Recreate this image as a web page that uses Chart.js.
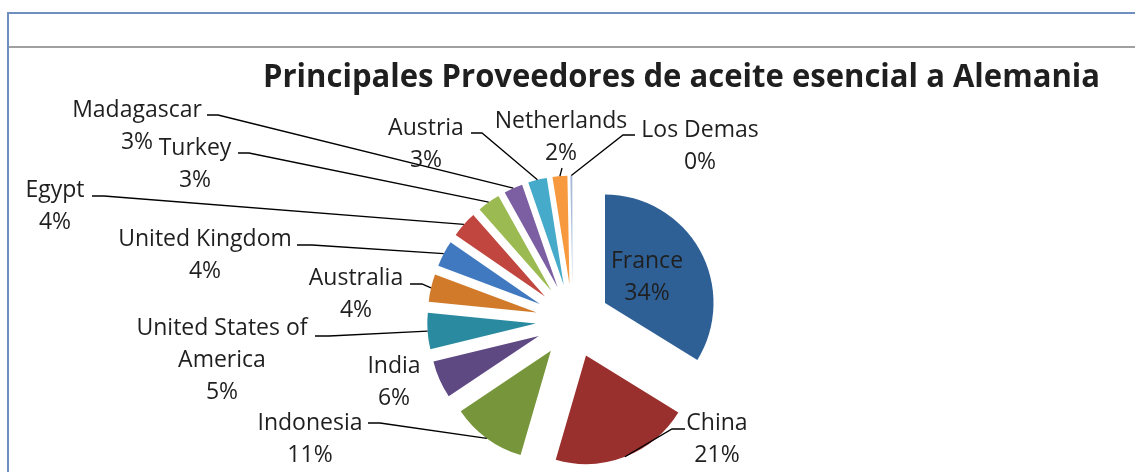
<!DOCTYPE html>
<html>
<head>
<meta charset="utf-8">
<script src="https://cdn.jsdelivr.net/npm/chart.js@4.4.0/dist/chart.umd.min.js"></script>
<style>
  html, body { margin: 0; padding: 0; background: #fff; }
  #wrap { position: relative; width: 1135px; height: 472px; overflow: hidden; }
  .frame-top { position: absolute; left: 7px; top: 12px; right: 0; height: 2px; background: #6f8fc0; }
  .frame-left { position: absolute; left: 7px; top: 12px; bottom: 0; width: 2px; background: #6f8fc0; }
  .frame-sep { position: absolute; left: 9px; top: 46px; right: 0; height: 2px; background: #a0a0a0; }
  canvas { position: absolute; left: 0; top: 0; }
</style>
</head>
<body>
<div id="wrap">
  <div class="frame-top"></div>
  <div class="frame-left"></div>
  <div class="frame-sep"></div>
  <canvas id="chart" width="1135" height="472"></canvas>
</div>
<script>
const chartTitle = 'Principales Proveedores de aceite esencial a Alemania';

const categories = ['France', 'China', 'Indonesia', 'India', 'United States of America', 'Australia',
    'United Kingdom', 'Egypt', 'Turkey', 'Madagascar', 'Austria', 'Netherlands', 'Los Demas'];

const shares = [33.8, 20.7, 11.1, 5.6, 5.4, 4.1, 3.9, 3.9, 3.4, 2.8, 2.8, 2.2, 0.3];

const sliceColors = ['#2e6096', '#9a302e', '#77963b', '#5f4983', '#2a8aa0', '#d07a2a',
    '#4079c0', '#c0463f', '#9bbb52', '#7c5ea3', '#46aaca', '#f7993f', '#a9bbd8'];

// where each label sits: centre x, first baseline y, leader start and horizontal stub
const labelLayout = [
    { x: 647, y: 268 },
    { x: 717, y: 430, lx: 685, ly: 429, stub: -13 },
    { x: 310, y: 430, lx: 368, ly: 423, stub: 12 },
    { x: 394, y: 373 },
    { x: 222, y: 335, lx: 315, ly: 336, stub: 14, wrap: 195 },
    { x: 356, y: 285, lx: 410, ly: 284, stub: 12 },
    { x: 205, y: 246, lx: 297, ly: 245, stub: 15 },
    { x: 55, y: 197, lx: 92, ly: 196, stub: 12 },
    { x: 195, y: 155, lx: 238, ly: 153, stub: 11 },
    { x: 137, y: 117, lx: 207, ly: 115, stub: 11 },
    { x: 426, y: 135, lx: 471, ly: 133, stub: 11 },
    { x: 561, y: 128, lx: 562, ly: 168, stub: 0 },
    { x: 700, y: 137, lx: 635, ly: 135, stub: -12 }
];

const EXPLODE = 37;
const LINE_H = 32;
const LABEL_FONT = '23px "Open Sans"';
const TEXT_COLOR = '#1f1f1f';

function wrapText(ctx, text, maxWidth) {
    if (!maxWidth) return [text];
    const words = text.split(' ');
    const lines = [];
    let cur = '';
    words.forEach(w => {
        const test = cur ? cur + ' ' + w : w;
        if (cur && ctx.measureText(test).width > maxWidth) {
            lines.push(cur);
            cur = w;
        } else {
            cur = test;
        }
    });
    lines.push(cur);
    return lines;
}

// every slice pushed out along its own middle angle, like the Excel exploded pie
const explodePlugin = {
    id: 'explode',
    beforeDatasetDraw(chart, args) {
        const ctx = chart.ctx;
        args.meta.data.forEach(arc => {
            const mid = (arc.startAngle + arc.endAngle) / 2;
            ctx.save();
            ctx.translate(Math.cos(mid) * EXPLODE, Math.sin(mid) * EXPLODE);
            arc.draw(ctx);
            ctx.restore();
        });
        return false;
    }
};

const labelPlugin = {
    id: 'pieLabels',
    afterDraw(chart) {
        const ctx = chart.ctx;
        const meta = chart.getDatasetMeta(0);
        const total = shares.reduce((a, b) => a + b, 0);

        // title
        ctx.save();
        ctx.font = 'bold 33px "Open Sans"';
        ctx.fillStyle = TEXT_COLOR;
        ctx.textBaseline = 'alphabetic';
        const tw = ctx.measureText(chartTitle).width;
        const sx = 837 / tw;
        ctx.translate(681.5, 87);
        ctx.scale(sx, 1);
        ctx.textAlign = 'center';
        ctx.fillText(chartTitle, 0, 0);
        ctx.restore();

        ctx.save();
        ctx.font = LABEL_FONT;
        ctx.fillStyle = TEXT_COLOR;
        ctx.textAlign = 'center';
        ctx.textBaseline = 'alphabetic';
        ctx.strokeStyle = '#000';
        ctx.lineWidth = 1.3;

        meta.data.forEach((arc, i) => {
            const lay = labelLayout[i];
            const lines = wrapText(ctx, categories[i], lay.wrap);
            lines.push(Math.round(shares[i] / total * 100) + '%');
            lines.forEach((t, k) => ctx.fillText(t, lay.x, lay.y + k * LINE_H));

            if (lay.lx === undefined) return;
            const mid = (arc.startAngle + arc.endAngle) / 2;
            const r = arc.outerRadius + EXPLODE;
            const ex = arc.x + Math.cos(mid) * r;
            const ey = arc.y + Math.sin(mid) * r;
            ctx.beginPath();
            ctx.moveTo(lay.lx, lay.ly);
            ctx.lineTo(lay.lx + lay.stub, lay.ly);
            ctx.lineTo(ex, ey);
            ctx.stroke();
        });
        ctx.restore();
    }
};

function buildChart() {
    const ctx = document.getElementById('chart').getContext('2d');
    return new Chart(ctx, {
        type: 'pie',
        data: {
            labels: categories,
            datasets: [{
                data: shares,
                backgroundColor: sliceColors,
                borderWidth: 0,
                radius: 108.5
            }]
        },
        options: {
            responsive: false,
            animation: false,
            events: [],
            layout: { padding: { left: 200.4, right: 190, top: 190, bottom: 20 } },
            plugins: {
                legend: { display: false },
                title: { display: false },
                tooltip: { enabled: false }
            }
        },
        plugins: [explodePlugin, labelPlugin]
    });
}

document.fonts.load('23px "Open Sans"').then(() => document.fonts.load('bold 33px "Open Sans"')).then(buildChart, buildChart);
</script>
</body>
</html>
